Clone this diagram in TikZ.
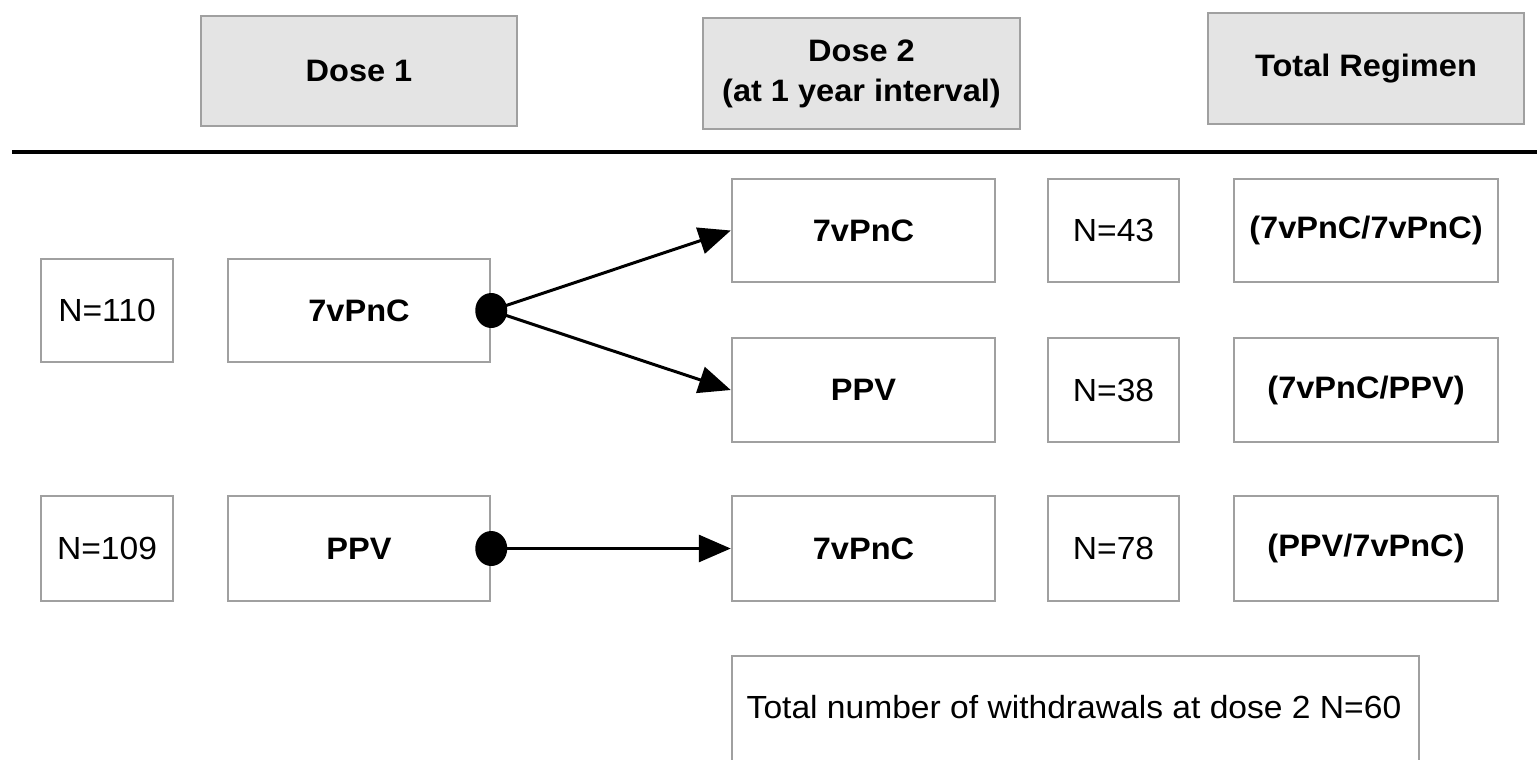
\documentclass[tikz,border=0pt]{standalone}
\usepackage{fontspec}
\setmainfont{Liberation Sans}[FakeStretch=1.05]
\usetikzlibrary{shapes.geometric,arrows.meta}
\definecolor{bordergray}{HTML}{A0A0A0}
\definecolor{headfill}{HTML}{E4E4E4}
\tikzset{
  box/.style={draw=bordergray, line width=2.5pt, fill=white, inner sep=0pt,
    align=center, font=\fontsize{32}{38}\selectfont},
  head/.style={box, fill=headfill, font=\fontsize{31}{40}\selectfont\bfseries},
  bbox/.style={box, font=\fontsize{31}{38}\selectfont\bfseries},
  dotnode/.style={ellipse, fill=black, draw=none, minimum width=32pt, minimum height=35pt, inner sep=0pt},
  arr/.style={line width=3pt, -{Triangle[length=32pt,width=27pt]}},
}
\begin{document}
\begin{tikzpicture}[x=1pt,y=-1pt]
\useasboundingbox (0,0) rectangle (1537,760);
% headers
\node[head, minimum width=316pt, minimum height=110pt] (h1) at (359,71) {Dose 1};
\node[head, minimum width=317pt, minimum height=111pt] (h2) at (861.5,73.5) {Dose 2\\(at 1 year interval)};
\node[head, minimum width=316pt, minimum height=111pt] (h3) at (1366,68.5) {Total Regimen};
% rule
\coordinate (ruleL) at (12,152);
\coordinate (ruleR) at (1537,152);
\draw[line width=4pt] (ruleL) -- (ruleR);
% dose 1 column
\node[box, minimum width=132pt, minimum height=103pt] (n110) at (107,310.5) {N=110};
\node[bbox, minimum width=262pt, minimum height=103pt] (d1a) at (359,310.5) {7vPnC};
\node[box, minimum width=132pt, minimum height=105pt] (n109) at (107,548.5) {N=109};
\node[bbox, minimum width=262pt, minimum height=105pt] (d1b) at (359,548.5) {PPV};
% dose 2 column
\node[bbox, minimum width=263pt, minimum height=103pt] (r1) at (863.5,230.5) {7vPnC};
\node[bbox, minimum width=263pt, minimum height=104pt] (r2) at (863.5,390) {PPV};
\node[bbox, minimum width=263pt, minimum height=105pt] (r3) at (863.5,548.5) {7vPnC};
% N column
\node[box, minimum width=131pt, minimum height=103pt] (n43) at (1113.5,230.5) {N=43};
\node[box, minimum width=131pt, minimum height=104pt] (n38) at (1113.5,390) {N=38};
\node[box, minimum width=131pt, minimum height=105pt] (n78) at (1113.5,548.5) {N=78};
% total regimen column
\node[bbox, minimum width=264pt, minimum height=103pt] (t1) at (1366,230.5) {(7vPnC/7vPnC)};
\node[bbox, minimum width=264pt, minimum height=104pt] (t2) at (1366,390) {(7vPnC/PPV)};
\node[bbox, minimum width=264pt, minimum height=105pt] (t3) at (1366,548.5) {(PPV/7vPnC)};
% withdrawals
\node[box, minimum width=687pt, minimum height=112pt] (wbox) at (1075.5,712) {};
\node[font=\fontsize{32}{38}\selectfont, inner sep=0pt] (wtext) at (1074,707) {Total number of withdrawals at dose 2 N=60};
% dots and arrows
\node[dotnode] (dot1) at (d1a.east) {};
\node[dotnode] (dot2) at (d1b.east) {};
\draw[arr] (dot1.center) -- (r1.west);
\draw[arr] (dot1.center) -- (r2.west);
\draw[arr] (dot2.center) -- (r3.west);
\end{tikzpicture}
\end{document}
